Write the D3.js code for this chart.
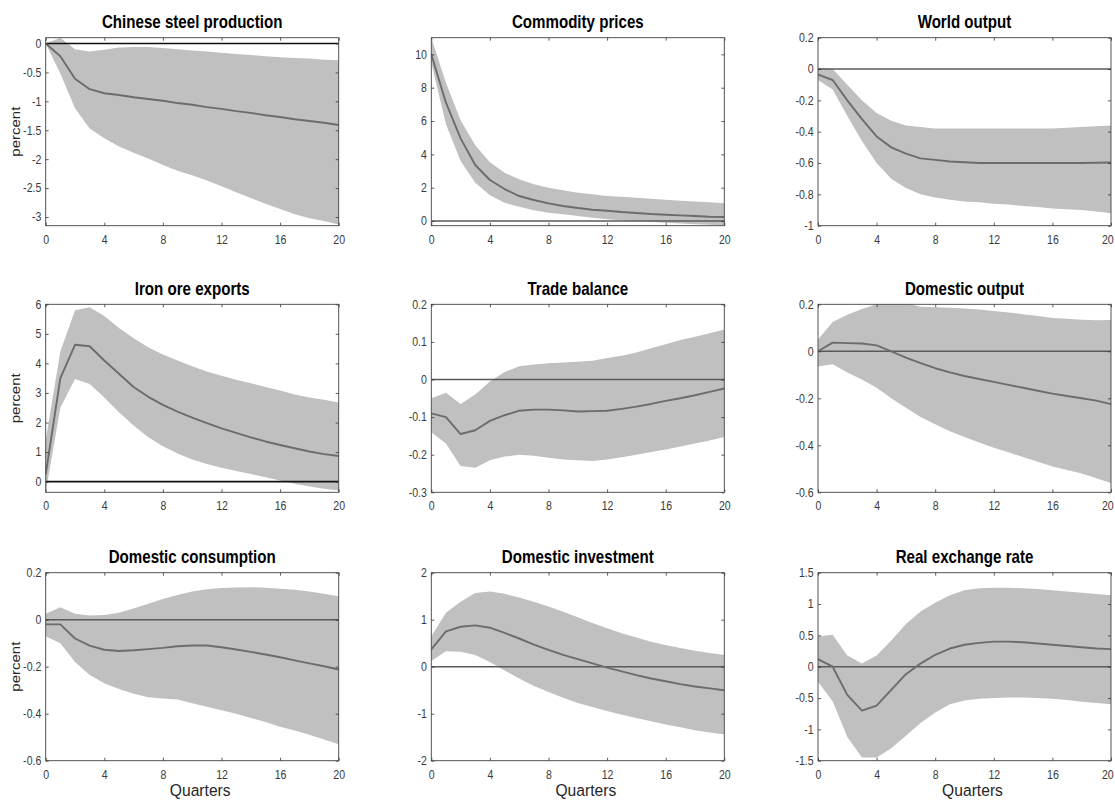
<!DOCTYPE html>
<html>
<head>
<meta charset="utf-8">
<script src="https://cdn.jsdelivr.net/npm/d3@7"></script>
<style>
  body { margin: 0; background: #fff; }
  svg { display: block; }
</style>
</head>
<body>
<svg id="fig" width="1115" height="800"></svg>
<script>
// Horizon in quarters after the shock
const quarters = [0, 1, 2, 3, 4, 5, 6, 7, 8, 9, 10, 11, 12, 13, 14, 15, 16, 17, 18, 19, 20];
const xTicks = [0, 4, 8, 12, 16, 20];

// Chinese steel production: median response and error band
const steelMed = [0, -0.22, -0.61, -0.79, -0.86, -0.89, -0.93, -0.96, -0.99, -1.03, -1.06, -1.1, -1.13, -1.17, -1.2, -1.24, -1.27, -1.31, -1.34, -1.37, -1.41];
const steelLo  = [0, -0.52, -1.12, -1.47, -1.64, -1.78, -1.89, -1.99, -2.1, -2.2, -2.28, -2.37, -2.47, -2.57, -2.67, -2.77, -2.86, -2.95, -3.02, -3.07, -3.13];
const steelHi  = [0, 0.1, -0.1, -0.14, -0.11, -0.07, -0.06, -0.06, -0.08, -0.1, -0.12, -0.14, -0.16, -0.18, -0.2, -0.22, -0.24, -0.25, -0.26, -0.28, -0.29];
const steelTicks = [-3, -2.5, -2, -1.5, -1, -0.5, 0];

// Commodity prices
const commMed = [10, 7.1, 4.96, 3.36, 2.46, 1.92, 1.5, 1.26, 1.06, 0.9, 0.78, 0.68, 0.62, 0.54, 0.48, 0.42, 0.38, 0.34, 0.3, 0.26, 0.24];
const commLo  = [9.5, 5.8, 3.6, 2.3, 1.55, 1.1, 0.85, 0.65, 0.5, 0.4, 0.3, 0.2, 0.1, 0.05, 0, -0.05, -0.1, -0.15, -0.2, -0.22, -0.25];
const commHi  = [11, 8.3, 6.05, 4.55, 3.52, 2.9, 2.5, 2.2, 2.0, 1.85, 1.7, 1.6, 1.5, 1.45, 1.4, 1.33, 1.27, 1.22, 1.17, 1.12, 1.06];
const commTicks = [0, 2, 4, 6, 8, 10];

// World output
const worldMed = [-0.035, -0.07, -0.2, -0.32, -0.43, -0.5, -0.54, -0.57, -0.58, -0.59, -0.595, -0.6, -0.6, -0.6, -0.6, -0.6, -0.6, -0.6, -0.6, -0.598, -0.597];
const worldLo  = [-0.07, -0.13, -0.3, -0.46, -0.6, -0.7, -0.76, -0.8, -0.82, -0.835, -0.845, -0.85, -0.86, -0.865, -0.875, -0.88, -0.89, -0.895, -0.9, -0.91, -0.92];
const worldHi  = [0.01, 0.0, -0.1, -0.2, -0.28, -0.33, -0.36, -0.37, -0.38, -0.38, -0.38, -0.38, -0.38, -0.38, -0.38, -0.38, -0.38, -0.375, -0.37, -0.365, -0.36];
const worldTicks = [-1, -0.8, -0.6, -0.4, -0.2, 0, 0.2];

// Iron ore exports
const oreMed = [0.25, 3.5, 4.63, 4.58, 4.1, 3.65, 3.2, 2.87, 2.6, 2.37, 2.17, 1.98, 1.8, 1.65, 1.5, 1.36, 1.24, 1.13, 1.02, 0.93, 0.87];
const oreLo  = [-0.36, 2.5, 3.47, 3.3, 2.85, 2.35, 1.9, 1.5, 1.2, 0.95, 0.75, 0.6, 0.47, 0.36, 0.26, 0.15, 0.04, -0.07, -0.16, -0.24, -0.3];
const oreHi  = [1.4, 4.4, 5.8, 5.9, 5.6, 5.2, 4.85, 4.55, 4.3, 4.1, 3.9, 3.73, 3.58, 3.45, 3.33, 3.2, 3.08, 2.95, 2.85, 2.77, 2.68];
const oreTicks = [0, 1, 2, 3, 4, 5, 6];

// Trade balance
const tbMed = [-0.09, -0.1, -0.145, -0.135, -0.11, -0.095, -0.083, -0.08, -0.08, -0.082, -0.085, -0.084, -0.083, -0.078, -0.072, -0.065, -0.057, -0.05, -0.042, -0.033, -0.024];
const tbLo  = [-0.14, -0.17, -0.23, -0.235, -0.215, -0.205, -0.2, -0.203, -0.208, -0.213, -0.215, -0.217, -0.213, -0.207, -0.2, -0.193, -0.186, -0.178, -0.17, -0.162, -0.153];
const tbHi  = [-0.05, -0.035, -0.065, -0.04, -0.005, 0.02, 0.035, 0.04, 0.043, 0.045, 0.047, 0.05, 0.057, 0.063, 0.072, 0.083, 0.094, 0.105, 0.114, 0.123, 0.133];
const tbTicks = [-0.3, -0.2, -0.1, 0, 0.1, 0.2];

// Domestic output
const outMed = [0, 0.037, 0.035, 0.033, 0.025, 0, -0.027, -0.05, -0.072, -0.09, -0.105, -0.118, -0.13, -0.143, -0.155, -0.168, -0.18, -0.19, -0.2, -0.21, -0.225];
const outLo  = [-0.065, -0.055, -0.09, -0.12, -0.155, -0.2, -0.24, -0.28, -0.31, -0.34, -0.365, -0.388, -0.41, -0.43, -0.45, -0.47, -0.49, -0.505, -0.52, -0.54, -0.56];
const outHi  = [0.05, 0.125, 0.155, 0.18, 0.2, 0.208, 0.205, 0.19, 0.187, 0.185, 0.182, 0.178, 0.172, 0.165, 0.158, 0.15, 0.142, 0.138, 0.134, 0.132, 0.133];
const outTicks = [-0.6, -0.4, -0.2, 0, 0.2];

// Domestic consumption
const consMed = [-0.02, -0.02, -0.08, -0.11, -0.128, -0.133, -0.13, -0.125, -0.12, -0.113, -0.11, -0.11, -0.117, -0.127, -0.137, -0.148, -0.16, -0.173, -0.186, -0.198, -0.212];
const consLo  = [-0.07, -0.1, -0.18, -0.235, -0.27, -0.295, -0.315, -0.33, -0.335, -0.34, -0.355, -0.37, -0.385, -0.4, -0.418, -0.435, -0.455, -0.472, -0.49, -0.51, -0.53];
const consHi  = [0.025, 0.053, 0.025, 0.018, 0.02, 0.03, 0.048, 0.068, 0.088, 0.105, 0.12, 0.13, 0.135, 0.137, 0.138, 0.136, 0.132, 0.127, 0.12, 0.11, 0.1];
const consTicks = [-0.6, -0.4, -0.2, 0, 0.2];

// Domestic investment
const invMed = [0.37, 0.75, 0.85, 0.88, 0.83, 0.72, 0.6, 0.47, 0.36, 0.25, 0.16, 0.07, -0.02, -0.1, -0.18, -0.25, -0.31, -0.37, -0.42, -0.46, -0.5];
const invLo  = [0.12, 0.33, 0.32, 0.25, 0.1, -0.08, -0.25, -0.41, -0.54, -0.66, -0.77, -0.86, -0.94, -1.02, -1.09, -1.16, -1.23, -1.29, -1.35, -1.4, -1.44];
const invHi  = [0.65, 1.15, 1.38, 1.57, 1.6, 1.55, 1.47, 1.38, 1.28, 1.17, 1.05, 0.93, 0.82, 0.71, 0.62, 0.53, 0.46, 0.4, 0.34, 0.29, 0.25];
const invTicks = [-2, -1, 0, 1, 2];

// Real exchange rate
const rerMed = [0.12, 0.0, -0.45, -0.7, -0.62, -0.37, -0.12, 0.05, 0.19, 0.29, 0.35, 0.38, 0.4, 0.4, 0.39, 0.37, 0.35, 0.33, 0.31, 0.29, 0.28];
const rerLo  = [-0.24, -0.55, -1.12, -1.45, -1.45, -1.3, -1.1, -0.9, -0.73, -0.6, -0.54, -0.51, -0.5, -0.49, -0.49, -0.5, -0.51, -0.53, -0.56, -0.58, -0.6];
const rerHi  = [0.48, 0.51, 0.18, 0.05, 0.18, 0.42, 0.68, 0.88, 1.02, 1.14, 1.22, 1.25, 1.26, 1.26, 1.25, 1.24, 1.22, 1.2, 1.18, 1.16, 1.14];
const rerTicks = [-1.5, -1, -0.5, 0, 0.5, 1, 1.5];

const panels = [
  { title: "Chinese steel production", med: steelMed, lo: steelLo, hi: steelHi, yDomain: [-3.15, 0.1], yTicks: steelTicks, zero: "#111" },
  { title: "Commodity prices",         med: commMed,  lo: commLo,  hi: commHi,  yDomain: [-0.28, 11],  yTicks: commTicks,  zero: "#5a5a5a" },
  { title: "World output",             med: worldMed, lo: worldLo, hi: worldHi, yDomain: [-1, 0.2],    yTicks: worldTicks, zero: "#5a5a5a" },
  { title: "Iron ore exports",         med: oreMed,   lo: oreLo,   hi: oreHi,   yDomain: [-0.36, 6],   yTicks: oreTicks,   zero: "#111" },
  { title: "Trade balance",            med: tbMed,    lo: tbLo,    hi: tbHi,    yDomain: [-0.3, 0.2],  yTicks: tbTicks,    zero: "#5a5a5a" },
  { title: "Domestic output",          med: outMed,   lo: outLo,   hi: outHi,   yDomain: [-0.6, 0.2],  yTicks: outTicks,   zero: "#5a5a5a" },
  { title: "Domestic consumption",     med: consMed,  lo: consLo,  hi: consHi,  yDomain: [-0.6, 0.2],  yTicks: consTicks,  zero: "#5a5a5a" },
  { title: "Domestic investment",      med: invMed,   lo: invLo,   hi: invHi,   yDomain: [-2, 2],      yTicks: invTicks,   zero: "#5a5a5a" },
  { title: "Real exchange rate",       med: rerMed,   lo: rerLo,   hi: rerHi,   yDomain: [-1.5, 1.5],  yTicks: rerTicks,   zero: "#5a5a5a" }
];

const yLabel = "percent";
const xLabel = "Quarters";

// Grid geometry of the 3x3 subplot layout
const colX = [45.7, 431.3, 818];
const rowY = [37.7, 304.3, 572.7];
const W = 293, H = 188;

const FONT = "'Liberation Sans', Arial, Helvetica, sans-serif";
const svg = d3.select("#fig");

const fmt = v => String(+v.toFixed(2));

panels.forEach((p, k) => {
  const col = k % 3, row = Math.floor(k / 3);
  const g = svg.append("g").attr("transform", `translate(${colX[col]},${rowY[row]})`);

  const x = d3.scaleLinear().domain([0, 20]).range([0, W]);
  const y = d3.scaleLinear().domain(p.yDomain).range([H, 0]);

  const clipId = "clip" + k;
  g.append("clipPath").attr("id", clipId)
    .append("rect").attr("x", 0).attr("y", 0).attr("width", W).attr("height", H);

  const plot = g.append("g").attr("clip-path", `url(#${clipId})`);

  // error band
  const band = d3.area()
    .x((d, i) => x(quarters[i]))
    .y0((d, i) => y(p.lo[i]))
    .y1((d, i) => y(p.hi[i]));
  plot.append("path").datum(p.med).attr("d", band).attr("fill", "#c0c0c0");

  // zero reference line
  plot.append("line")
    .attr("x1", x(0)).attr("x2", x(20))
    .attr("y1", y(0)).attr("y2", y(0))
    .attr("stroke", p.zero).attr("stroke-width", 1.6);

  // median response
  const line = d3.line().x((d, i) => x(quarters[i])).y(d => y(d));
  plot.append("path").datum(p.med).attr("d", line)
    .attr("fill", "none").attr("stroke", "#6c6c6c").attr("stroke-width", 1.9)
    .attr("stroke-linejoin", "round");

  // axes with inward ticks on all four sides
  const styleAxis = sel => {
    sel.select(".domain").remove();
    sel.selectAll(".tick line").attr("stroke", "#333").attr("stroke-width", 0.8);
    sel.selectAll(".tick text")
      .attr("fill", "#3a3a3a")
      .style("font-family", FONT)
      .style("font-size", "12px")
      .attr("transform", "scale(0.88,1)");
  };

  const bottom = g.append("g").attr("transform", `translate(0,${H})`)
    .call(d3.axisBottom(x).tickValues(xTicks).tickSize(-3).tickPadding(9.5).tickFormat(fmt))
    .call(styleAxis);
  // the last label of the right-hand column is kept inside the page edge
  if (col === 2) {
    bottom.selectAll(".tick text").filter(d => d === 20)
      .attr("text-anchor", "end").attr("x", 2.5);
  }
  g.append("g")
    .call(d3.axisLeft(y).tickValues(p.yTicks).tickSize(-3).tickPadding(5).tickFormat(fmt))
    .call(styleAxis);
  g.append("g")
    .call(d3.axisTop(x).tickValues(xTicks).tickSize(-3).tickFormat(""))
    .call(styleAxis);
  g.append("g").attr("transform", `translate(${W},0)`)
    .call(d3.axisRight(y).tickValues(p.yTicks).tickSize(-3).tickFormat(""))
    .call(styleAxis);

  // box
  g.append("rect").attr("x", 0).attr("y", 0).attr("width", W).attr("height", H)
    .attr("fill", "none").attr("stroke", "#404040").attr("stroke-width", 0.9);

  // title
  g.append("text")
    .attr("transform", `translate(${W / 2},-9.5) scale(0.84,1)`)
    .attr("text-anchor", "middle")
    .style("font-family", FONT).style("font-weight", "bold").style("font-size", "18px")
    .attr("fill", "#000")
    .text(p.title);

  if (col === 0) {
    g.append("text")
      .attr("transform", `translate(-25.5,${H / 2}) scale(0.8,1) rotate(-90)`)
      .attr("text-anchor", "middle")
      .style("font-family", FONT).style("font-size", "15px")
      .attr("fill", "#262626")
      .text(yLabel);
  }
  if (row === 2) {
    g.append("text")
      .attr("transform", `translate(${W / 2 + 8},${H + 35.5}) scale(0.92,1)`)
      .attr("text-anchor", "middle")
      .style("font-family", FONT).style("font-size", "17px")
      .attr("fill", "#262626")
      .text(xLabel);
  }
});
</script>
</body>
</html>
